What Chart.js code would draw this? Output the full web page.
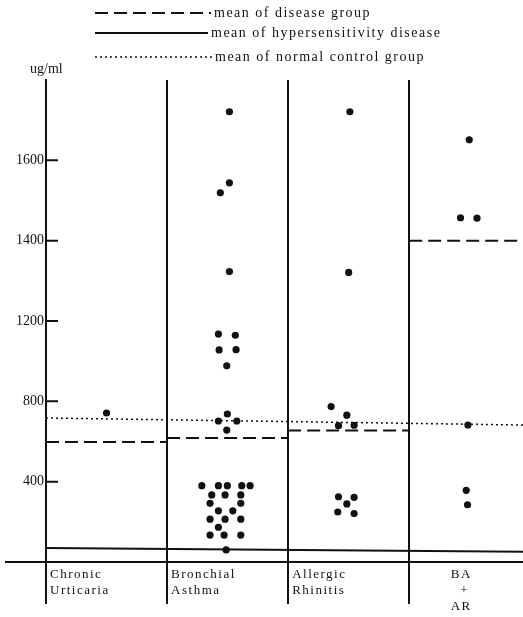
<!DOCTYPE html>
<html>
<head>
<meta charset="utf-8">
<script src="https://cdn.jsdelivr.net/npm/chart.js@4.4.0/dist/chart.umd.min.js"></script>
<style>
  body { margin: 0; background: #fff; }
  #wrap { position: relative; width: 523px; height: 617px; }
  #legend { position: absolute; left: 0; top: 0; font: 14px "Liberation Serif", serif; letter-spacing: 1.5px; color: #111; }
  .item { position: absolute; left: 95px; white-space: nowrap; display: flex; align-items: center; }
  .item svg { margin-right: 3px; }
  #unit { position: absolute; left: 30px; top: 61px; font: 14px "Liberation Serif", serif; color: #111; }
</style>
</head>
<body>
<div id="wrap">
  <canvas id="grafico" width="523" height="617"></canvas>
  <div id="legend">
    <div class="item" style="top:5px"><svg width="116" height="4"><line x1="0" y1="2" x2="116" y2="2" stroke="#111" stroke-width="2" stroke-dasharray="13 6"/></svg>mean of disease group</div>
    <div class="item" style="top:25px"><svg width="113" height="4"><line x1="0" y1="2" x2="113" y2="2" stroke="#111" stroke-width="2"/></svg>mean of hypersensitivity disease</div>
    <div class="item" style="top:49px"><svg width="117" height="4"><line x1="0" y1="2" x2="117" y2="2" stroke="#111" stroke-width="1.5" stroke-dasharray="2 3"/></svg>mean of normal control group</div>
  </div>
  <div id="unit">ug/ml</div>
</div>
<script>
// Categorias y datos
const categorias = [['Chronic', 'Urticaria'], ['Bronchial', 'Asthma'], ['Allergic', 'Rhinitis'], ['BA', '  +', 'AR']];
const ticksY = [400, 800, 1200, 1400, 1600];

// Chronic Urticaria
const cuX = [0.50];
const cuY = [742];

// Bronchial Asthma
const baX = [1.515, 1.515, 1.44, 1.515,
    1.424, 1.564, 1.43, 1.57, 1.493,
    1.498, 1.424, 1.576, 1.493,
    1.287, 1.424, 1.498, 1.617, 1.686,
    1.369, 1.479, 1.609,
    1.355, 1.609,
    1.424, 1.543,
    1.355, 1.479, 1.609,
    1.424,
    1.355, 1.471, 1.609,
    1.488];
const baY = [1721, 1544, 1519, 1323,
    1135, 1129, 1056, 1057, 977,
    737, 702, 702, 657,
    380, 380, 380, 380, 380,
    334, 334, 334,
    292, 292,
    255, 255,
    213, 213, 213,
    173,
    134, 134, 134,
    60];

// Allergic Rhinitis
const arX = [2.51, 2.50, 2.355, 2.485, 2.416, 2.545, 2.416, 2.545, 2.485, 2.41, 2.545];
const arY = [1721, 1321, 774, 731, 679, 681, 325, 322, 289, 249, 241];

// BA + AR
const baarX = [3.496, 3.424, 3.56, 3.485, 3.471, 3.482];
const baarY = [1651, 1457, 1456, 682, 357, 285];

// Medias
const mediaEnfermedad = [598, 618, 655, 1400];
const mediaHipersensibilidad = [70, 51];   // extremos izquierdo y derecho
const mediaControl = [717, 682];           // extremos izquierdo y derecho

const X_MAX = 3.94;
const NEGRO = '#111';

// Escala con cambio de paso en 1200 (400 por division abajo, 200 arriba)
class EscalaQuebrada extends Chart.LinearScale {
    _f(v) { return v <= 1200 ? v / 2 : v - 600; }
    _fi(t) { return t <= 600 ? t * 2 : t + 600; }
    getPixelForValue(value) {
        const a = this._f(this.min), b = this._f(this.max);
        return this.getPixelForDecimal((this._f(value) - a) / (b - a));
    }
    getValueForPixel(pixel) {
        const a = this._f(this.min), b = this._f(this.max);
        return this._fi(a + this.getDecimalForPixel(pixel) * (b - a));
    }
}
EscalaQuebrada.id = 'quebrada';
EscalaQuebrada.defaults = {};

// Eje x con espaciado de letras en las etiquetas
class EscalaCategorias extends Chart.LinearScale {
    drawLabels(area) {
        this.ctx.save();
        this.ctx.letterSpacing = '1.5px';
        super.drawLabels(area);
        this.ctx.restore();
    }
}
EscalaCategorias.id = 'categorias';
EscalaCategorias.defaults = {};

Chart.register(EscalaQuebrada, EscalaCategorias);

// Marcas hacia dentro y prolongacion del eje x
const extrasEjes = {
    id: 'extrasEjes',
    afterDraw(chart) {
        const { ctx, scales: { x, y } } = chart;
        ctx.save();
        ctx.strokeStyle = NEGRO;
        ctx.lineWidth = 2;
        ctx.beginPath();
        const y0 = y.getPixelForValue(0);
        ctx.moveTo(5, y0);
        ctx.lineTo(x.left, y0);
        y.ticks.forEach(t => {
            const py = y.getPixelForValue(t.value);
            ctx.moveTo(x.left, py);
            ctx.lineTo(x.left + 12, py);
        });
        ctx.stroke();
        ctx.restore();
    }
};

const puntos = (xs, ys) => xs.map((v, i) => ({ x: v, y: ys[i] }));
const bordes = [0, 1, 2, 3, X_MAX];

const datasets = [];
mediaEnfermedad.forEach((m, i) => {
    datasets.push({
        type: 'line',
        data: [{ x: bordes[i], y: m }, { x: bordes[i + 1], y: m }],
        borderColor: NEGRO,
        borderWidth: 2,
        borderDash: [13, 6],
        pointRadius: 0
    });
});
datasets.push({
    type: 'line',
    data: [{ x: 0, y: mediaHipersensibilidad[0] }, { x: X_MAX, y: mediaHipersensibilidad[1] }],
    borderColor: NEGRO,
    borderWidth: 2,
    pointRadius: 0
});
datasets.push({
    type: 'line',
    data: [{ x: 0, y: mediaControl[0] }, { x: X_MAX, y: mediaControl[1] }],
    borderColor: NEGRO,
    borderWidth: 1.5,
    borderDash: [2, 3],
    pointRadius: 0
});
[[cuX, cuY], [baX, baY], [arX, arY], [baarX, baarY]].forEach(([xs, ys]) => {
    datasets.push({
        type: 'scatter',
        data: puntos(xs, ys),
        backgroundColor: NEGRO,
        borderWidth: 0,
        pointRadius: 3.6
    });
});

// Posiciones de las etiquetas: 0..3 son divisiones, 3.31 es la etiqueta BA+AR
const ticksX = [0, 1, 2, 3, 3.31];
const etiquetasX = [categorias[0], categorias[1], categorias[2], '', categorias[3]];

new Chart(document.getElementById('grafico'), {
    type: 'scatter',
    data: { datasets },
    plugins: [extrasEjes],
    options: {
        responsive: false,
        animation: false,
        layout: { autoPadding: false, padding: { top: 80, left: 0, right: 0, bottom: 0 } },
        plugins: { legend: { display: false }, tooltip: { enabled: false } },
        scales: {
            x: {
                type: 'categorias',
                min: 0,
                max: X_MAX,
                afterBuildTicks: s => { s.ticks = ticksX.map(v => ({ value: v })); },
                afterFit: s => { s.height = 55; s.paddingLeft = 0; s.paddingRight = 0; },
                grid: {
                    color: c => Number.isInteger(c.tick && c.tick.value) ? NEGRO : 'transparent',
                    tickColor: c => Number.isInteger(c.tick && c.tick.value) ? NEGRO : 'transparent',
                    lineWidth: 2,
                    tickLength: 42
                },
                border: { display: true, color: NEGRO, width: 2 },
                ticks: {
                    autoSkip: false,
                    maxRotation: 0,
                    align: 'start',
                    labelOffset: 4,
                    padding: -38,
                    color: NEGRO,
                    font: { family: 'Liberation Serif', size: 13, lineHeight: 1.25 },
                    callback: (v, i) => etiquetasX[i]
                }
            },
            y: {
                type: 'quebrada',
                min: 0,
                max: 1800,
                afterBuildTicks: s => { s.ticks = ticksY.map(v => ({ value: v })); },
                afterFit: s => { s.width = 46; s.paddingTop = 0; s.paddingBottom = 0; },
                grid: { drawOnChartArea: false, drawTicks: false },
                border: { display: true, color: NEGRO, width: 2 },
                ticks: {
                    padding: 2,
                    color: NEGRO,
                    font: { family: 'Liberation Serif', size: 14 },
                    callback: v => String(v)
                }
            }
        }
    }
});
</script>
</body>
</html>
